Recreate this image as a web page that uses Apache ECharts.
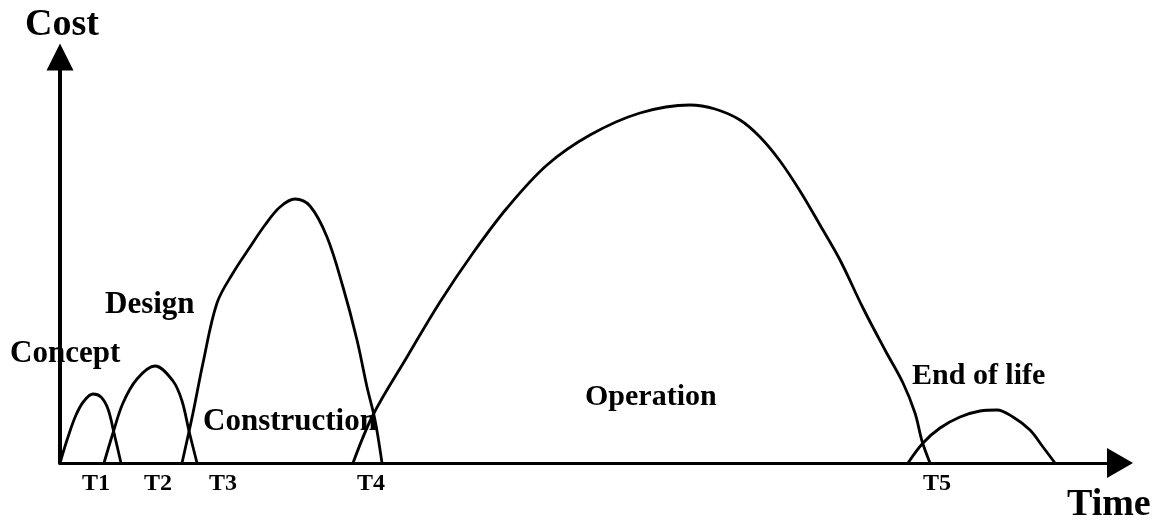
<!DOCTYPE html>
<html>
<head>
<meta charset="utf-8">
<script src="https://cdn.jsdelivr.net/npm/echarts@6/dist/echarts.min.js"></script>
<style>
html,body{margin:0;padding:0;background:#fff;}
#chart{width:1160px;height:520px;}
</style>
</head>
<body>
<div id="chart"></div>
<script>
// Cost curves per life-cycle phase: [time, cost] (arbitrary units)
var concept = [[0,0],[8,26],[16,48],[24,62],[33,69],[41,66],[48,54],[54,30],[61,0]];
var design = [[44,0],[53,30],[63,60],[77,84],[95,97],[113,82],[122,62],[129,32],[137,0]];
var construction = [[122,0],[133,50],[143,100],[157,160],[173,190],[190,216],[205,238],[220,256],[235,264],[250,257],[267,226],[283,176],[297,123],[307,76],[315,43],[322,0]];
var operation = [[293,0],[313,48],[347,106],[380,161],[413,210],[447,255],[487,298],[530,328],[580,350],[630,358],[655,354],[680,343],[700,326],[720,302],[740,272],[760,238],[780,203],[803,155],[825,113],[843,80],[855,50],[862,22],[870,0]];
var endOfLife = [[848,0],[863,20],[880,35],[900,46],[920,52],[937,53],[953,46],[970,33],[983,16],[995,0]];

// Time milestones on the time axis
var milestoneNames = ['T1','T2','T3','T4','T5'];
var milestoneTimes = [36, 98, 163, 311, 877];

var phaseNames = ['Concept','Design','Construction','Operation','End of life'];
var phaseData = [concept, design, construction, operation, endOfLife];

var chart = echarts.init(document.getElementById('chart'), null, {renderer:'canvas'});
var serif = '"Liberation Serif","Times New Roman",serif';

function lbl(text, x, baseline, fs){
  return {type:'text', x:x, y:baseline - 0.305*fs,
    style:{text:text, font:'bold '+fs+'px '+serif, fill:'#000', textAlign:'left', textVerticalAlign:'middle'}};
}

var option = {
  backgroundColor:'#fff',
  animation:false,
  grid:{left:60, right:40, top:57, bottom:57, containLabel:false, outerBoundsMode:'none'},
  xAxis:{
    type:'value', min:0, max:1060,
    splitLine:{show:false},
    axisTick:{show:false},
    axisLine:{show:true, onZero:false, symbol:['none','triangle'], symbolSize:[30,26],
      lineStyle:{color:'#000', width:3}},
    axisLabel:{
      customValues: milestoneTimes,
      margin:9,
      color:'#000',
      fontFamily:serif, fontWeight:'bold', fontSize:24,
      formatter:function(v){ var i = milestoneTimes.indexOf(v); return i>=0 ? milestoneNames[i] : ''; }
    }
  },
  yAxis:{
    type:'value', min:0, max:406,
    splitLine:{show:false},
    axisTick:{show:false},
    axisLabel:{show:false},
    axisLine:{show:true, onZero:false, symbol:['none','triangle'], symbolSize:[27,27],
      lineStyle:{color:'#000', width:4}}
  },
  series: phaseData.map(function(d, i){
    return {
      name: phaseNames[i], type:'line', data:d, smooth:0.35, showSymbol:false,
      clip:false, silent:true,
      lineStyle:{color:'#000', width:2.8}
    };
  }),
  graphic:[
    lbl('Cost', 25, 37, 38),
    lbl('Time', 1067, 517, 38),
    lbl('Concept', 10, 363, 31),
    lbl('Design', 105, 314, 31),
    lbl('Construction', 203, 431, 31),
    lbl('Operation', 585, 406, 30),
    lbl('End of life', 912, 385, 30)
  ]
};
chart.setOption(option);
</script>
</body>
</html>
